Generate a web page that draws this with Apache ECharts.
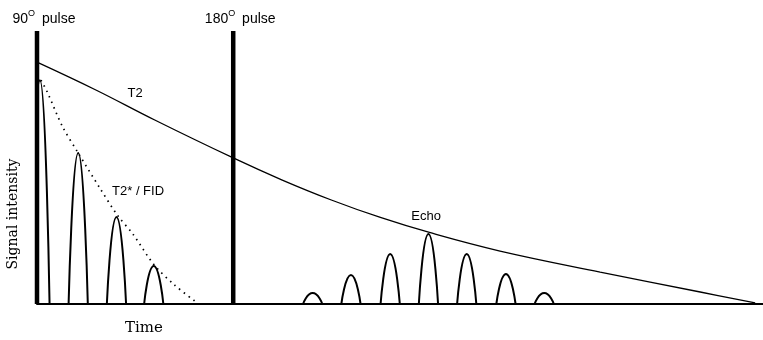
<!DOCTYPE html>
<html><head><meta charset="utf-8">
<script src="https://cdn.jsdelivr.net/npm/echarts@6/dist/echarts.min.js"></script>
<style>html,body{margin:0;padding:0;background:#fff}#c{width:763px;height:340px}</style>
</head><body><div id="c"></div>
<script>
// Time in ms after the 90° pulse, signal relative to initial magnetisation
const pulseTimes = [0, 10];
const pulseNames = ['90', '180'];
const t2Time   = [0, 3, 6, 10, 12.5, 15, 17.5, 20, 23.6, 28.7, 33.8, 36.6];
const t2Signal = [0.886, 0.784, 0.674, 0.535, 0.454, 0.381, 0.317, 0.262, 0.194, 0.117, 0.044, 0.004];
const fidEnvTime   = [0.2, 0.5, 1.3, 2.1, 3.2, 4.1, 4.9, 5.95, 7.0, 8.15];
const fidEnvSignal = [0.82, 0.78, 0.65, 0.553, 0.425, 0.325, 0.255, 0.145, 0.07, 0.005];
const fidLobeTime = [0.15, 2.1, 4.05, 5.95];
const fidLobePeak = [0.82, 0.553, 0.319, 0.139];
const echoLobeTime = [14.05, 16, 18, 19.95, 21.9, 23.9, 25.85];
const echoLobePeak = [0.04, 0.106, 0.183, 0.256, 0.183, 0.11, 0.04];
const lobeHalfWidth = 0.49;
const notes = ['T2', 'T2* / FID', 'Echo'];
const noteTime = [5.0, 5.15, 19.83];
const noteSignal = [0.773, 0.414, 0.322];

function lobes(times, peaks) {
  const d = [];
  times.forEach((c, i) => {
    if (i) d.push(['-', '-']);
    d.push([c - lobeHalfWidth, 0], [c, peaks[i]], [c + lobeHalfWidth, 0]);
  });
  return d;
}
const pulseData = [];
pulseTimes.forEach((t, i) => {
  if (i) pulseData.push(['-', '-']);
  pulseData.push({ value: [t, 0], label: { show: false } });
  pulseData.push({
    value: [t, 1],
    label: { show: true, formatter: pulseNames[i] + '{s|O} pulse' }
  });
});

const FONT = '"Liberation Sans", Arial, sans-serif';
const chart = echarts.init(document.getElementById('c'), null, { renderer: 'canvas' });
const option = {
  animation: false,
  backgroundColor: '#fff',
  grid: { left: 37, right: 0, top: 31, bottom: 36 },
  xAxis: {
    type: 'value', min: 0, max: 37,
    axisLine: { show: true, lineStyle: { color: '#000', width: 2 } },
    axisTick: { show: false }, axisLabel: { show: false }, splitLine: { show: false }
  },
  yAxis: {
    type: 'value', min: 0, max: 1,
    axisLine: { show: false }, axisTick: { show: false },
    axisLabel: { show: false }, splitLine: { show: false }
  },
  series: [
    {
      name: 'T2', type: 'line', data: t2Time.map((t, i) => [t, t2Signal[i]]),
      showSymbol: false, smooth: 0.4,
      lineStyle: { color: '#000', width: 1.3 }
    },
    {
      name: 'T2* envelope', type: 'line', data: fidEnvTime.map((t, i) => [t, fidEnvSignal[i]]),
      showSymbol: false, smooth: 0.3,
      lineStyle: { color: '#000', width: 1.7, type: [1.5, 4.5] }
    },
    {
      name: 'FID', type: 'line', data: lobes(fidLobeTime, fidLobePeak),
      showSymbol: false, smooth: 0.6, connectNulls: false,
      lineStyle: { color: '#000', width: 2 }
    },
    {
      name: 'Echo', type: 'line', data: lobes(echoLobeTime, echoLobePeak),
      showSymbol: false, smooth: 0.6, connectNulls: false,
      lineStyle: { color: '#000', width: 2 }
    },
    {
      name: 'Pulses', type: 'line', data: pulseData, clip: false,
      showSymbol: true, symbol: 'circle', symbolSize: 0, connectNulls: false,
      itemStyle: { color: '#000' },
      lineStyle: { color: '#000', width: 4.5, cap: 'butt' },
      label: {
        show: true, position: 'top', distance: 4, offset: [7, 2],
        color: '#000', fontFamily: FONT, fontSize: 14, lineHeight: 20,
        rich: { s: { fontSize: 9, lineHeight: 6, verticalAlign: 'top', fontFamily: FONT, color: '#000', padding: [0, 3, 0, 0] } }
      },
      emphasis: { disabled: true },
      z: 5
    }
  ]
};
chart.setOption(option);

const gfx = notes.map((txt, i) => {
  const p = chart.convertToPixel({ gridIndex: 0 }, [noteTime[i], noteSignal[i]]);
  return {
    type: 'text', x: p[0], y: p[1],
    style: { text: txt, fill: '#000', font: '13px ' + FONT, align: 'center', verticalAlign: 'middle' }
  };
});
gfx.push({
  type: 'text', x: 13, y: 214, rotation: Math.PI / 2,
  style: { text: 'Signal intensity', fill: '#000', font: '14px "DejaVu Serif", serif', align: 'center', verticalAlign: 'middle' }
});
gfx.push({
  type: 'text', x: 144, y: 328,
  style: { text: 'Time', fill: '#000', font: '15px "DejaVu Serif", serif', align: 'center', verticalAlign: 'middle' }
});
chart.setOption({ graphic: gfx });
</script>
</body></html>
